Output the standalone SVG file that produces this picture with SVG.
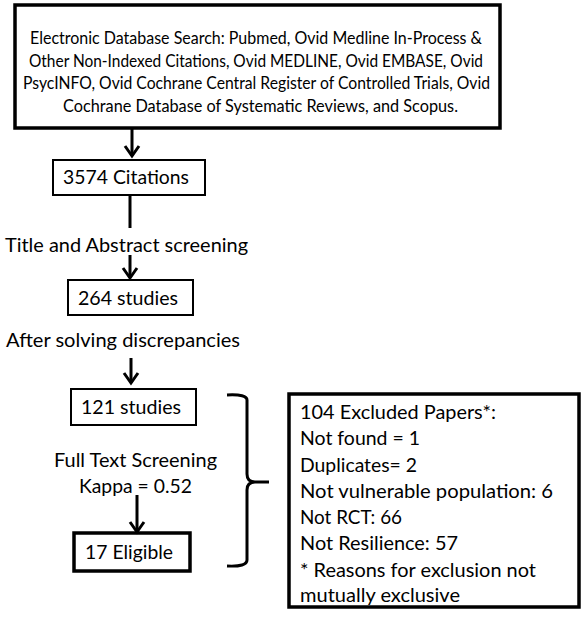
<svg xmlns="http://www.w3.org/2000/svg" width="584" height="621" viewBox="0 0 584 621">
<style>
text{font-family:Lato,"Open Sans","Liberation Sans",sans-serif;fill:#000;font-size:20px}
.t{font-size:18px}
.box{fill:#fff;stroke:#000;stroke-width:2}
.thick{stroke-width:3.5}
.ln{fill:none;stroke:#000;stroke-width:3;stroke-linecap:butt}
.hd{fill:none;stroke:#000;stroke-width:3;stroke-linejoin:miter}
</style>
<rect width="584" height="621" fill="#fff"/>
<g id="search">
<rect class="box thick" x="15" y="5" width="485" height="123"/>
<text class="t" x="30" y="44" textLength="452" lengthAdjust="spacingAndGlyphs">Electronic Database Search: Pubmed, Ovid Medline In-Process &amp;</text>
<text class="t" x="29" y="67" textLength="454" lengthAdjust="spacingAndGlyphs">Other Non-Indexed Citations, Ovid MEDLINE, Ovid EMBASE, Ovid</text>
<text class="t" x="23" y="89" textLength="467" lengthAdjust="spacingAndGlyphs">PsycINFO, Ovid Cochrane Central Register of Controlled Trials, Ovid</text>
<text class="t" x="63" y="112" textLength="395" lengthAdjust="spacingAndGlyphs">Cochrane Database of Systematic Reviews, and Scopus.</text>
</g>
<g id="citations">
<rect class="box" x="53" y="160" width="152" height="35"/>
<text x="63" y="184" textLength="126" lengthAdjust="spacingAndGlyphs">3574 Citations</text>
</g>
<g id="studies264">
<rect class="box" x="68" y="280" width="125" height="35"/>
<text x="78" y="305" textLength="100" lengthAdjust="spacingAndGlyphs">264 studies</text>
</g>
<g id="studies121">
<rect class="box" x="71" y="389" width="125" height="36"/>
<text x="81" y="414" textLength="100" lengthAdjust="spacingAndGlyphs">121 studies</text>
</g>
<g id="eligible">
<rect class="box thick" x="74" y="533" width="116" height="38"/>
<text x="85" y="559" textLength="88" lengthAdjust="spacingAndGlyphs">17 Eligible</text>
</g>
<g id="excluded">
<rect class="box thick" x="289" y="394" width="290" height="213"/>
<text x="300" y="419" textLength="196" lengthAdjust="spacingAndGlyphs">104 Excluded Papers*:</text>
<text x="300" y="445" textLength="120" lengthAdjust="spacingAndGlyphs">Not found = 1</text>
<text x="300" y="472" textLength="117" lengthAdjust="spacingAndGlyphs">Duplicates= 2</text>
<text x="300" y="498" textLength="253" lengthAdjust="spacingAndGlyphs">Not vulnerable population: 6</text>
<text x="300" y="524" textLength="102" lengthAdjust="spacingAndGlyphs">Not RCT: 66</text>
<text x="300" y="550" textLength="158" lengthAdjust="spacingAndGlyphs">Not Resilience: 57</text>
<text x="300" y="577" textLength="236" lengthAdjust="spacingAndGlyphs">* Reasons for exclusion not</text>
<text x="300" y="602" textLength="160" lengthAdjust="spacingAndGlyphs">mutually exclusive</text>
</g>
<g id="labels">
<text x="5" y="252" textLength="243" lengthAdjust="spacingAndGlyphs">Title and Abstract screening</text>
<text x="6" y="347" textLength="234" lengthAdjust="spacingAndGlyphs">After solving discrepancies</text>
<text x="54" y="467" textLength="163" lengthAdjust="spacingAndGlyphs">Full Text Screening</text>
<text x="79" y="493" textLength="113" lengthAdjust="spacingAndGlyphs">Kappa = 0.52</text>
</g>
<g id="connectors">
<path class="ln" d="M132 128V156"/>
<path class="hd" d="M125 146L132 156L139 146"/>
<path class="ln" d="M130 195V228"/>
<path class="ln" d="M130 255V278"/>
<path class="hd" d="M123 268L130 278L137 268"/>
<path class="ln" d="M131 358V383"/>
<path class="hd" d="M124 373L131 383L138 373"/>
<path class="ln" d="M137 495V532"/>
<path class="hd" d="M130 522L137 532L144 522"/>
<path class="ln" d="M227 395Q247 394 247 400V474Q247 482 255 482H269M255 482Q247 482 247 490V560Q247 567 227 566"/>
</g>
</svg>
